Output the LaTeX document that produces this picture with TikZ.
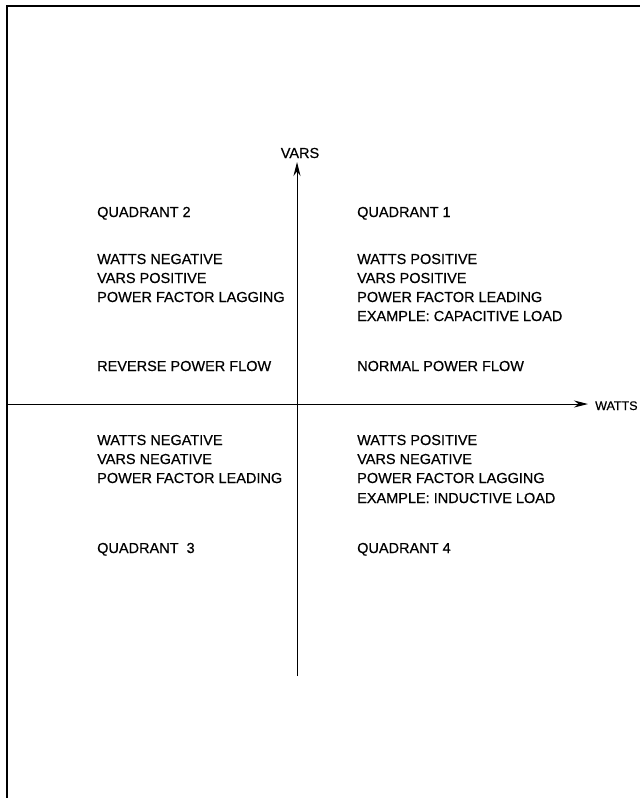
\documentclass[tikz,border=0pt]{standalone}
\usepackage{fontspec}
\setmainfont{Liberation Sans}[FakeBold=0.4,AutoFakeBold=0.4]
\newfontfamily\scanfont{Liberation Sans}[FakeBold=0.5]
\usetikzlibrary{arrows.meta}
\begin{document}
\begin{tikzpicture}[x=1pt,y=-1pt,
  lbl/.style={font=\scanfont\fontsize{14.5}{16}\selectfont, inner sep=0pt, text height=10pt, text depth=0pt, anchor=west},
  axis/.style={line width=1pt, -{Stealth[length=14pt,width=7pt]}},
  frame/.style={line width=2pt}]
\useasboundingbox (0,0) rectangle (640,798);
\draw[frame] (7,800) -- (7,6) -- (640,6);
% axes
\coordinate (xs) at (7,404);
\coordinate (xe) at (588,404);
\coordinate (ys) at (297,676);
\coordinate (ye) at (297,162);
\draw[axis] (xs) -- (xe);
\draw[axis] (ys) -- (ye);
\node[lbl, anchor=center] (vars) at (300,153) {VARS};
\node[lbl, font=\scanfont\fontsize{12.5}{14}\selectfont] (watts) at (595,405) {WATTS};
% quadrant 2
\node[lbl] (q2) at (97,212) {QUADRANT 2};
\node[lbl] (q2a) at (97,259) {WATTS NEGATIVE};
\node[lbl] (q2b) at (97,278) {VARS POSITIVE};
\node[lbl] (q2c) at (97,297) {POWER FACTOR LAGGING};
\node[lbl] (q2d) at (97,366) {REVERSE POWER FLOW};
% quadrant 1
\node[lbl] (q1) at (357,212) {QUADRANT 1};
\node[lbl] (q1a) at (357,259) {WATTS POSITIVE};
\node[lbl] (q1b) at (357,278) {VARS POSITIVE};
\node[lbl] (q1c) at (357,297) {POWER FACTOR LEADING};
\node[lbl] (q1d) at (357,316) {EXAMPLE: CAPACITIVE LOAD};
\node[lbl] (q1e) at (357,366) {NORMAL POWER FLOW};
% quadrant 3
\node[lbl] (q3a) at (97,440) {WATTS NEGATIVE};
\node[lbl] (q3b) at (97,459) {VARS NEGATIVE};
\node[lbl] (q3c) at (97,478) {POWER FACTOR LEADING};
\node[lbl] (q3) at (97,548) {QUADRANT\ \ 3};
% quadrant 4
\node[lbl] (q4a) at (357,440) {WATTS POSITIVE};
\node[lbl] (q4b) at (357,459) {VARS NEGATIVE};
\node[lbl] (q4c) at (357,478) {POWER FACTOR LAGGING};
\node[lbl] (q4d) at (357,498) {EXAMPLE: INDUCTIVE LOAD};
\node[lbl] (q4) at (357,548) {QUADRANT 4};
\end{tikzpicture}
\end{document}
